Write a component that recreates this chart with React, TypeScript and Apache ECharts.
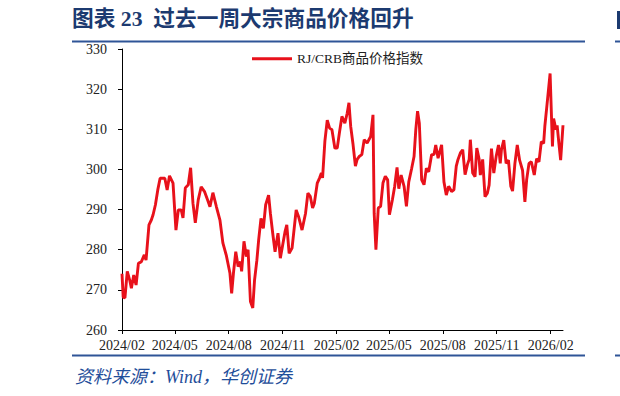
import React, { useEffect, useRef } from "react";
import * as echarts from "echarts";

const dayOffsets: number[] = [
  0, 2, 5, 9, 13, 16, 20, 24, 28, 33, 38, 41, 46, 50, 53, 57, 61, 65, 73, 77,
  81, 87, 92, 96, 101, 104, 108, 113, 117, 121, 125, 130, 135, 141, 146, 150, 155, 161, 167, 172,
  178, 184, 187, 190, 194, 198, 202, 204, 208, 212, 215, 219, 223, 226, 230, 233, 237, 241, 245, 250,
  253, 257, 261, 266, 270, 274, 278, 281, 285, 290, 297, 301, 307, 313, 317, 321, 325, 328, 333, 337,
  340, 342, 346, 350, 354, 358, 363, 367, 371, 375, 380, 384, 387, 390, 394, 398, 401, 405, 409, 413,
  418, 424, 428, 430, 433, 437, 441, 445, 449, 453, 456, 461, 465, 469, 472, 476, 481, 485, 489, 494,
  498, 501, 504, 507, 511, 515, 519, 523, 528, 532, 535, 539, 545, 549, 553, 557, 562, 566, 570, 573,
  577, 581, 585, 589, 592, 594, 598, 602, 605, 609, 611, 615, 619, 623, 626, 630, 634, 638, 642, 645,
  647, 651, 655, 659, 663, 666, 670, 674, 678, 683, 687, 690, 694, 698, 703, 707, 711, 715, 719, 721,
  725, 730, 734, 736, 740, 742, 745, 748, 752,
];

// RJ/CRB commodity index values
const indexValues: number[] = [
  274.0, 268.2, 268.0, 274.6, 272.5, 270.4, 273.7, 271.2, 276.6, 277.0, 278.7, 277.4, 286.2, 287.4, 288.7, 291.2, 294.9, 297.8, 297.8, 294.9,
  298.4, 296.6, 284.9, 289.9, 289.9, 287.9, 295.4, 296.2, 300.4, 291.6, 286.7, 292.4, 295.7, 294.4, 292.4, 290.7, 294.2, 290.7, 287.4, 281.7,
  278.5, 274.2, 269.1, 274.1, 279.5, 275.8, 277.0, 274.6, 282.1, 278.3, 280.0, 267.1, 265.5, 272.4, 277.4, 282.4, 287.8, 285.3, 291.2, 293.6,
  289.1, 284.1, 279.5, 284.1, 277.9, 281.2, 284.5, 286.2, 279.1, 280.4, 289.9, 288.3, 284.9, 289.1, 294.1, 293.3, 290.4, 291.6, 296.6, 297.9,
  299.1, 297.9, 307.1, 312.3, 310.3, 309.9, 305.3, 305.3, 309.4, 313.2, 311.5, 314.0, 316.6, 310.7, 306.2, 300.8, 302.5, 303.3, 303.7, 307.4,
  306.6, 308.2, 313.6, 289.1, 280.0, 290.4, 290.8, 296.6, 298.3, 297.4, 288.7, 292.4, 295.8, 300.5, 295.2, 298.6, 295.8, 290.8, 296.9, 300.3,
  303.2, 309.9, 314.5, 311.5, 297.4, 296.2, 300.3, 299.4, 303.7, 303.7, 306.1, 302.8, 306.1, 296.9, 293.6, 295.8, 294.5, 294.9, 300.8, 302.5,
  304.1, 304.9, 298.7, 301.2, 302.5, 307.4, 299.1, 298.2, 305.3, 302.5, 298.6, 302.5, 293.2, 294.1, 296.1, 305.2, 299.1, 303.2, 306.1, 301.5,
  304.9, 307.3, 301.5, 302.3, 295.8, 294.6, 301.5, 306.1, 302.3, 299.8, 291.9, 297.4, 301.5, 301.9, 298.6, 302.7, 301.9, 306.9, 306.5, 310.7,
  316.5, 323.9, 305.7, 312.7, 309.9, 311.0, 306.5, 302.3, 311.0,
];

const startDate = "2024-02-01";
const totalDays = 753;
const tickMonths = ["02", "05", "08", "11"];
const seriesName = "RJ/CRB商品价格指数";
const titleText = "图表 23  过去一周大宗商品价格回升";
const sourceText = "资料来源：Wind，华创证券";

function buildCategories(): string[] {
  const base = Date.parse(startDate + "T00:00:00Z");
  const out: string[] = [];
  for (let i = 0; i < totalDays; i++) {
    const d = new Date(base + i * 86400000);
    const y = d.getUTCFullYear();
    const m = String(d.getUTCMonth() + 1).padStart(2, "0");
    const dd = String(d.getUTCDate()).padStart(2, "0");
    out.push(`${y}/${m}/${dd}`);
  }
  return out;
}

export default function App() {
  const ref = useRef<HTMLDivElement>(null);

  useEffect(() => {
    if (!ref.current) return;
    const chart = echarts.init(ref.current, undefined, { renderer: "svg" });
    const categories = buildCategories();
    const isTick = (_i: number, v: string) => {
      const parts = String(v).split("/");
      return parts[2] === "01" && tickMonths.includes(parts[1]);
    };
    const navy = "#1c3a70";
    const rule = "#2f5597";
    const red = "#e8111b";
    chart.setOption({
      animation: false,
      backgroundColor: "#ffffff",
      grid: { left: 122, right: 57, top: 49, bottom: 66, containLabel: false },
      legend: {
        left: 247,
        top: 47,
        icon: "rect",
        itemWidth: 40,
        itemHeight: 3,
        itemGap: 10,
        textStyle: {
          fontFamily: "'Liberation Serif', 'Noto Sans CJK SC'",
          fontSize: 13.5,
          color: "#222",
        },
        data: [seriesName],
      },
      xAxis: {
        type: "category",
        data: categories,
        boundaryGap: false,
        axisLine: { show: true, lineStyle: { color: "#000", width: 1 } },
        axisTick: { show: true, interval: isTick, length: 4, lineStyle: { color: "#000" } },
        axisLabel: {
          show: true,
          interval: isTick,
          formatter: (v: string) => v.slice(0, 7),
          fontFamily: "'Liberation Serif'",
          fontSize: 14,
          color: "#222",
          margin: 8,
        },
        splitLine: { show: false },
      },
      yAxis: {
        type: "value",
        min: 260,
        max: 330,
        interval: 10,
        axisLine: { show: true, lineStyle: { color: "#000", width: 1 } },
        axisTick: { show: true, length: 4, lineStyle: { color: "#000" } },
        axisLabel: {
          fontFamily: "'Liberation Serif'",
          fontSize: 14,
          color: "#222",
          margin: 15,
        },
        splitLine: { show: false },
      },
      series: [
        {
          name: seriesName,
          type: "line",
          symbol: "none",
          data: dayOffsets.map((d, i) => [d, indexValues[i]]),
          lineStyle: { color: red, width: 2.9 },
          itemStyle: { color: red },
        },
      ],
      graphic: [
        {
          type: "text",
          left: 72,
          top: 8,
          style: {
            text: titleText,
            fontFamily: "'Liberation Serif', 'Noto Sans CJK SC'",
            fontWeight: "bold",
            fontSize: 21.7,
            fill: navy,
          },
        },
        {
          type: "rect",
          shape: { x: 617, y: 11, width: 3, height: 18 },
          style: { fill: navy },
        },
        {
          type: "line",
          shape: { x1: 72, y1: 41.5, x2: 585, y2: 41.5 },
          style: { stroke: rule, lineWidth: 2 },
        },
        {
          type: "line",
          shape: { x1: 615, y1: 41.5, x2: 620, y2: 41.5 },
          style: { stroke: rule, lineWidth: 2 },
        },
        {
          type: "line",
          shape: { x1: 72, y1: 355.5, x2: 585, y2: 355.5 },
          style: { stroke: rule, lineWidth: 2 },
        },
        {
          type: "line",
          shape: { x1: 615, y1: 355.5, x2: 620, y2: 355.5 },
          style: { stroke: rule, lineWidth: 2 },
        },
        {
          type: "text",
          left: 75,
          top: 368,
          style: {
            text: sourceText,
            fontFamily: "'Liberation Serif', 'Noto Sans CJK SC'",
            fontStyle: "italic",
            fontSize: 18,
            fill: "#1f4e9a",
          },
        },
      ],
    });
    return () => chart.dispose();
  }, []);

  return (
    <div
      ref={ref}
      style={{ position: "fixed", left: 0, top: 0, width: 620, height: 396 }}
    />
  );
}
